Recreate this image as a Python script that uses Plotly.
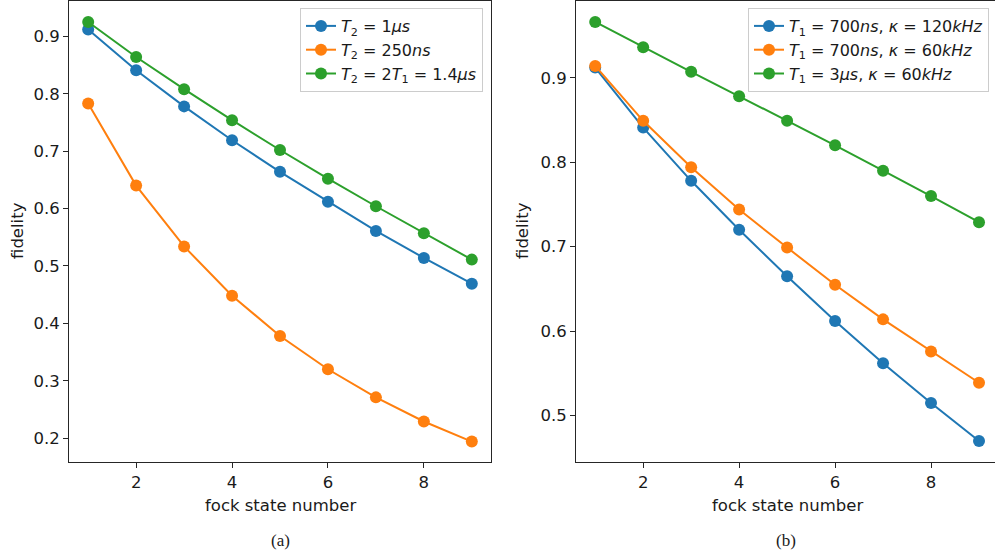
import plotly.graph_objects as go

fock = [1, 2, 3, 4, 5, 6, 7, 8, 9]

# panel (a)
a_t2_1us = [0.912, 0.841, 0.778, 0.719, 0.664, 0.612, 0.561, 0.514, 0.469]
a_t2_250ns = [0.783, 0.640, 0.534, 0.448, 0.378, 0.320, 0.271, 0.229, 0.194]
a_t2_2t1 = [0.925, 0.864, 0.808, 0.754, 0.702, 0.652, 0.604, 0.557, 0.511]

# panel (b)
b_700_120 = [0.912, 0.841, 0.778, 0.720, 0.665, 0.612, 0.562, 0.515, 0.470]
b_700_60 = [0.914, 0.849, 0.794, 0.744, 0.699, 0.655, 0.614, 0.576, 0.539]
b_3us_60 = [0.966, 0.936, 0.907, 0.878, 0.849, 0.820, 0.790, 0.760, 0.729]

a_names = ["<i>T</i><sub>2</sub> = 1<i>μs</i>",
           "<i>T</i><sub>2</sub> = 250<i>ns</i>",
           "<i>T</i><sub>2</sub> = 2<i>T</i><sub>1</sub> = 1.4<i>μs</i>"]
b_names = ["<i>T</i><sub>1</sub> = 700<i>ns</i>, <i>κ</i> = 120<i>kHz</i>",
           "<i>T</i><sub>1</sub> = 700<i>ns</i>, <i>κ</i> = 60<i>kHz</i>",
           "<i>T</i><sub>1</sub> = 3<i>μs</i>, <i>κ</i> = 60<i>kHz</i>"]

colors = ["#1f77b4", "#ff7f0e", "#2ca02c"]
FONT = "DejaVu Sans"
FS = 16.5
W, H = 995, 555

fig = go.Figure()
for i, (ys, nm, c) in enumerate(zip([a_t2_1us, a_t2_250ns, a_t2_2t1], a_names, colors)):
    fig.add_trace(go.Scatter(x=fock, y=ys, name=nm, mode="lines+markers", legendgroup=f"a{i}",
                             line=dict(color=c, width=2), marker=dict(color=c, size=12),
                             xaxis="x", yaxis="y", legend="legend"))
for i, (ys, nm, c) in enumerate(zip([b_700_120, b_700_60, b_3us_60], b_names, colors)):
    fig.add_trace(go.Scatter(x=fock, y=ys, name=nm, mode="lines+markers", legendgroup=f"b{i}",
                             line=dict(color=c, width=2), marker=dict(color=c, size=12),
                             xaxis="x2", yaxis="y2", legend="legend2"))

ydom = [(H - 462) / H, (H - 1) / H]
axcommon = dict(showline=True, linecolor="#262626", linewidth=1, ticks="outside",
                ticklen=5, tickcolor="#262626", showgrid=False, zeroline=False,
                tickfont=dict(family=FONT, size=FS, color="#1a1a1a"))

# right panel is clipped by the figure edge in the reference: x=9 at px 979, 48 px per unit
x2_right = 9 + (W - 979) / 48.0

legfont = dict(family=FONT, size=16, color="#1a1a1a")
fig.update_layout(
    width=W, height=H, margin=dict(l=0, r=0, t=0, b=0),
    plot_bgcolor="white", paper_bgcolor="white",
    showlegend=True,
    xaxis=dict(domain=[69 / W, 491 / W], range=[0.6, 9.4], tickvals=[2, 4, 6, 8],
               mirror=True, anchor="y", **axcommon),
    yaxis=dict(domain=ydom, range=[0.1584, 0.9616], tickvals=[0.2, 0.3, 0.4, 0.5, 0.6, 0.7, 0.8, 0.9],
               tickformat=".1f", mirror=True, anchor="x", **axcommon),
    xaxis2=dict(domain=[576 / W, 1.0], range=[0.6, x2_right], tickvals=[2, 4, 6, 8],
                mirror=True, anchor="y2", **axcommon),
    yaxis2=dict(domain=ydom, range=[0.4452, 0.9908], tickvals=[0.5, 0.6, 0.7, 0.8, 0.9],
                tickformat=".1f", mirror=False, anchor="x2", **axcommon),
    legend=dict(x=483 / W, y=1 - 8 / H, xanchor="right", yanchor="top",
                bgcolor="rgba(255,255,255,0.8)", bordercolor="#cccccc", borderwidth=1,
                font=legfont, tracegroupgap=0),
    legend2=dict(x=989 / W, y=1 - 8 / H, xanchor="right", yanchor="top",
                 bgcolor="rgba(255,255,255,0.8)", bordercolor="#cccccc", borderwidth=1,
                 font=legfont, tracegroupgap=0),
)

ann = []
tf = dict(family=FONT, size=FS, color="#1a1a1a")
ann.append(dict(text="fidelity", x=18 / W, y=1 - 231 / H, textangle=-90, font=tf))
ann.append(dict(text="fidelity", x=523 / W, y=1 - 231 / H, textangle=-90, font=tf))
ann.append(dict(text="fock state number", x=280 / W, y=1 - 505 / H, font=tf))
ann.append(dict(text="fock state number", x=787 / W, y=1 - 505 / H, font=tf))
sf = dict(family="Liberation Serif", size=17, color="#1a1a1a")
ann.append(dict(text="(a)", x=280 / W, y=1 - 540 / H, font=sf))
ann.append(dict(text="(b)", x=786 / W, y=1 - 540 / H, font=sf))
for a in ann:
    a.update(xref="paper", yref="paper", showarrow=False, xanchor="center", yanchor="middle")
fig.update_layout(annotations=ann)

fig.write_html("out.html")
